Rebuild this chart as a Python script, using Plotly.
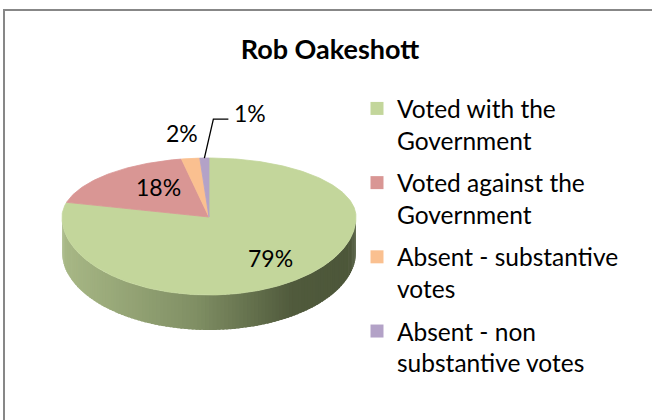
import numpy as np
import plotly.graph_objects as go

# ---- data -------------------------------------------------------------
title = "Rob Oakeshott"
categories = ["Voted with the Government", "Voted against the Government",
              "Absent - substantive votes", "Absent - non substantive votes"]
legend_labels = ["Voted with the<br>Government", "Voted against the<br>Government",
                 "Absent - substantive<br>votes", "Absent - non<br>substantive votes"]
shares = [79, 18, 2, 1]

# ---- style ------------------------------------------------------------
colors = ["#C3D69B", "#D99694", "#FAC090", "#B3A2C7"]
FONT = "Lato, Carlito, Calibri, sans-serif"
W, H = 652, 420

# 3-D pie geometry in pixel units (y grows downwards)
CX, CY = 209, 217
RX, RY_BACK, RY_FRONT = 147, 59, 78
DEPTH = 35
# label placement as radial fractions (x, y) of the rim; None -> leader line
label_frac = [(0.68, 0.67), (0.50, 0.70), (1.47, 1.44), None]
# side shading stops: (position across the pie, rgb)
side_stops = [(0.0, (168, 184, 134)), (0.45, (128, 143, 100)),
              (0.78, (80, 90, 60)), (1.0, (76, 86, 57))]


def rim(theta_deg):
    """Point on the top rim; theta measured clockwise from 12 o'clock."""
    t = np.radians(np.asarray(theta_deg, dtype=float))
    x = CX + RX * np.sin(t)
    c = np.cos(t)
    y = CY - np.where(c > 0, RY_BACK, RY_FRONT) * c
    return x, y


def side_color(x):
    p = (x - (CX - RX)) / (2 * RX)
    p = min(max(p, 0.0), 1.0)
    for (p0, c0), (p1, c1) in zip(side_stops[:-1], side_stops[1:]):
        if p <= p1:
            f = (p - p0) / (p1 - p0)
            rgb = [round(a + (b - a) * f) for a, b in zip(c0, c1)]
            return "rgb({},{},{})".format(*rgb)
    return "rgb({},{},{})".format(*side_stops[-1][1])


def wall(s, e, n=4):
    th = np.linspace(s, e, n)
    xt, yt = rim(th)
    return (np.concatenate([xt, xt[::-1]]),
            np.concatenate([yt, yt[::-1] + DEPTH]), xt)


total = sum(shares)
bounds = np.cumsum([0] + shares) / total * 360.0

fig = go.Figure()

# side wall of the visible (front) half, drawn as overlapping shaded strips
STEP = 1.5
for i in range(len(shares)):
    a, b = max(bounds[i], 90.0), min(bounds[i + 1], 270.0)
    if b <= a:
        continue
    s = a
    while s < b - 1e-9:
        e = min(s + STEP, b)
        xs, ys, xt = wall(s, min(e + 0.8, b))
        col = side_color(xt.mean())
        fig.add_trace(go.Scatter(x=xs, y=ys, mode="lines", fill="toself",
                                 fillcolor=col, line=dict(width=0),
                                 hoverinfo="skip", showlegend=False))
        s = e

# top face slices
for i, (name, val) in enumerate(zip(categories, shares)):
    th = np.linspace(bounds[i], bounds[i + 1], max(int(val * 4), 6))
    xt, yt = rim(th)
    xs = np.concatenate([[CX], xt, [CX]])
    ys = np.concatenate([[CY], yt, [CY]])
    fig.add_trace(go.Scatter(x=xs, y=ys, mode="lines", fill="toself",
                             fillcolor=colors[i],
                             line=dict(color=colors[i], width=0.8),
                             name=name, hoverinfo="name", showlegend=False))

# data labels
annotations = []
for i, val in enumerate(shares):
    mid = (bounds[i] + bounds[i + 1]) / 2
    text = f"{round(val / total * 100)}%"
    if label_frac[i] is None:
        x0, y0 = rim(mid)
        x0, y0 = float(x0), float(y0)
        lx = [x0, x0 + 9, x0 + 24]
        ly = [y0, y0 - 39, y0 - 39]
        fig.add_trace(go.Scatter(x=lx, y=ly, mode="lines",
                                 line=dict(color="black", width=1.3),
                                 hoverinfo="skip", showlegend=False))
        annotations.append(dict(x=lx[-1] + 4, y=ly[-1] - 6, text=text,
                                xanchor="left", yanchor="middle",
                                showarrow=False, xref="x", yref="y",
                                font=dict(family=FONT, size=23, color="black")))
    else:
        t = np.radians(mid)
        fx, fy = label_frac[i]
        c = np.cos(t)
        ry = RY_BACK if c > 0 else RY_FRONT
        annotations.append(dict(x=CX + RX * np.sin(t) * fx, y=CY - ry * c * fy,
                                text=text, xanchor="center", yanchor="middle",
                                showarrow=False, xref="x", yref="y",
                                font=dict(family=FONT, size=23, color="black")))

# legend entries
for i, lab in enumerate(legend_labels):
    fig.add_trace(go.Scatter(x=[None], y=[None], mode="markers",
                             marker=dict(symbol="square", size=13, color=colors[i]),
                             name=lab, legendgroup=f"g{i}"))

fig.update_layout(
    width=W, height=H,
    margin=dict(l=0, r=0, t=0, b=0),
    paper_bgcolor="white", plot_bgcolor="white",
    xaxis=dict(range=[0, W], visible=False, fixedrange=True),
    yaxis=dict(range=[H, 0], visible=False, fixedrange=True),
    title=dict(text=f"<b>{title}</b>", x=330 / W, y=1 - 50 / H,
               xanchor="center", yanchor="middle",
               font=dict(family=FONT, size=27, color="black")),
    legend=dict(x=357 / W, y=1 - 86 / H, xanchor="left", yanchor="top",
                valign="top", tracegroupgap=7.5, bgcolor="rgba(0,0,0,0)",
                font=dict(family=FONT, size=24.5, color="black")),
    annotations=annotations,
    shapes=[dict(type="rect", xref="paper", yref="paper",
                 x0=4 / W, x1=1.05, y0=-0.05, y1=1 - 10 / H,
                 line=dict(color="#878787", width=2), fillcolor="rgba(0,0,0,0)")],
)

fig.write_html("out.html")
